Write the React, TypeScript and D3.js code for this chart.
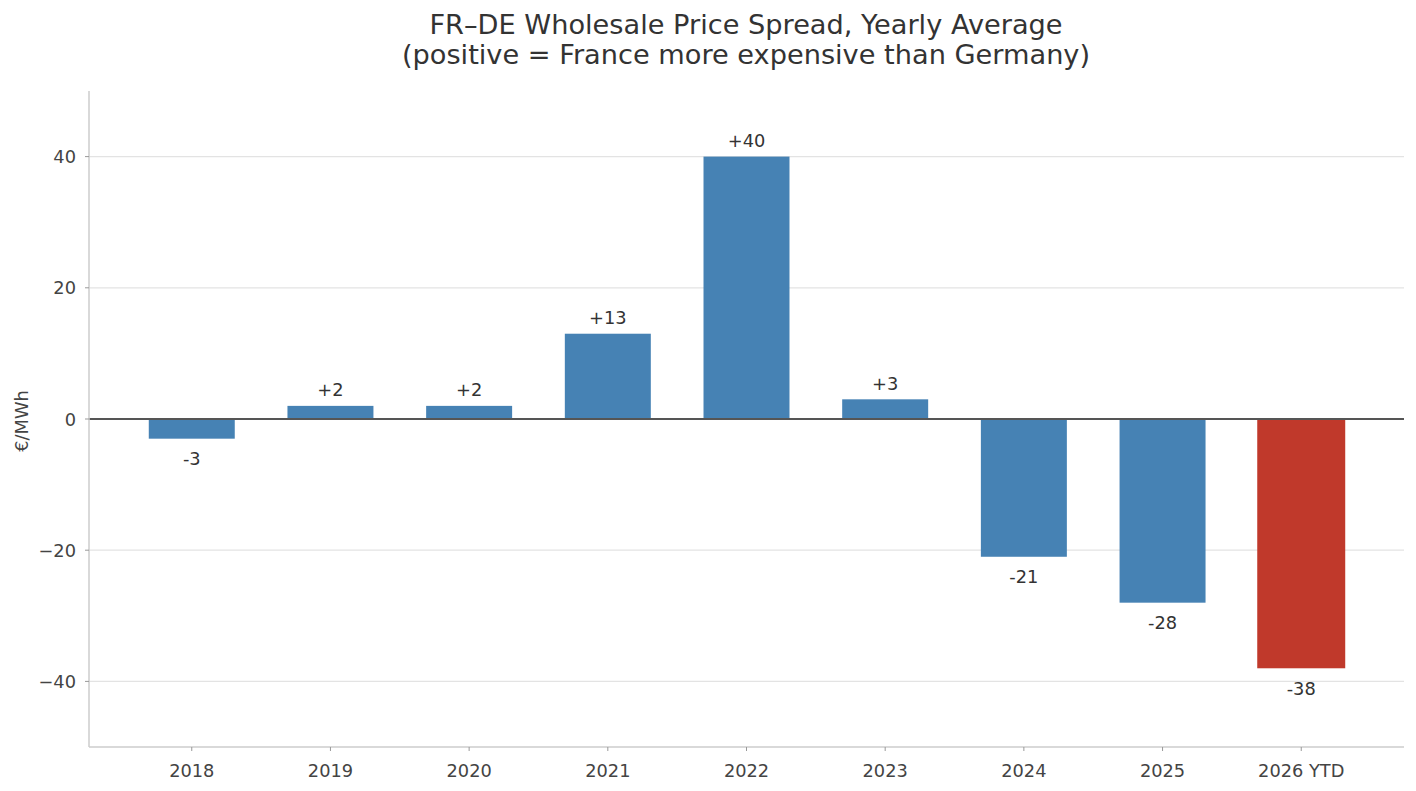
import * as d3 from "d3";

const years = ["2018", "2019", "2020", "2021", "2022", "2023", "2024", "2025", "2026 YTD"];
const spread = [-3, 2, 2, 13, 40, 3, -21, -28, -38];
const yTicks = [-40, -20, 0, 20, 40];

const W = 1416;
const H = 791;
const margin = { top: 91, right: 12, bottom: 44, left: 89 };
const FONT = "DejaVu Sans, sans-serif";
const BLUE = "#4682b4";
const RED = "#c0392b";
const FS = 17.8;

export default function App() {
  const innerW = W - margin.left - margin.right;
  const innerH = H - margin.top - margin.bottom;

  const x = d3.scaleLinear().domain([-0.741, years.length - 1 + 0.741]).range([0, innerW]);
  const y = d3.scaleLinear().domain([-50, 50]).range([innerH, 0]);
  const step = x(1) - x(0);
  const barW = step * 0.62;

  const label = (v: number) => (v > 0 ? `+${v}` : `${v}`);

  return (
    <svg
      width={W}
      height={H}
      style={{ position: "absolute", left: 0, top: 0, background: "#fff" }}
      fontFamily={FONT}
    >
      <text x={746} y={34} textAnchor="middle" fontSize={27.2} fill="#333">
        FR–DE Wholesale Price Spread, Yearly Average
      </text>
      <text x={746} y={64} textAnchor="middle" fontSize={27.2} fill="#333">
        (positive = France more expensive than Germany)
      </text>

      <g transform={`translate(${margin.left},${margin.top})`}>
        {/* grid */}
        {yTicks.map((t) => (
          <line key={t} x1={0} x2={innerW} y1={y(t)} y2={y(t)} stroke="#e3e3e3" strokeWidth={1.2} />
        ))}

        {/* bars */}
        {spread.map((v, i) => {
          const last = i === years.length - 1;
          const w = last ? barW + 2 : barW;
          return (
            <rect
              key={years[i]}
              x={x(i) - w / 2}
              y={Math.min(y(v), y(0))}
              width={w}
              height={Math.abs(y(v) - y(0))}
              fill={last ? RED : BLUE}
            />
          );
        })}

        {/* zero line */}
        <line x1={0} x2={innerW} y1={y(0)} y2={y(0)} stroke="#555" strokeWidth={2} />

        {/* value labels */}
        {spread.map((v, i) => (
          <text
            key={years[i]}
            x={x(i)}
            y={v >= 0 ? y(v) - 16 : y(v) + 20}
            textAnchor="middle"
            dominantBaseline="central"
            fontSize={FS}
            fill="#333"
          >
            {label(v)}
          </text>
        ))}

        {/* spines */}
        <line x1={0} x2={0} y1={0} y2={innerH} stroke="#ccc" strokeWidth={1.5} />
        <line x1={0} x2={innerW} y1={innerH} y2={innerH} stroke="#ccc" strokeWidth={1.5} />

        {/* y axis */}
        {yTicks.map((t) => (
          <g key={t} transform={`translate(0,${y(t)})`}>
            <line x1={-4} x2={0} stroke="#999" strokeWidth={1} />
            <text x={-13} textAnchor="end" dominantBaseline="central" fontSize={FS} fill="#444">
              {t < 0 ? `\u2212${-t}` : t}
            </text>
          </g>
        ))}
        <text
          transform={`translate(-68,${y(0) + 2}) rotate(-90)`}
          textAnchor="middle"
          dominantBaseline="central"
          fontSize={FS}
          fill="#444"
        >
          €/MWh
        </text>

        {/* x axis */}
        {years.map((c, i) => (
          <g key={c} transform={`translate(${x(i)},${innerH})`}>
            <line y1={0} y2={4} stroke="#999" strokeWidth={1} />
            <text y={23} textAnchor="middle" dominantBaseline="central" fontSize={FS} fill="#444">
              {c}
            </text>
          </g>
        ))}
      </g>
    </svg>
  );
}
